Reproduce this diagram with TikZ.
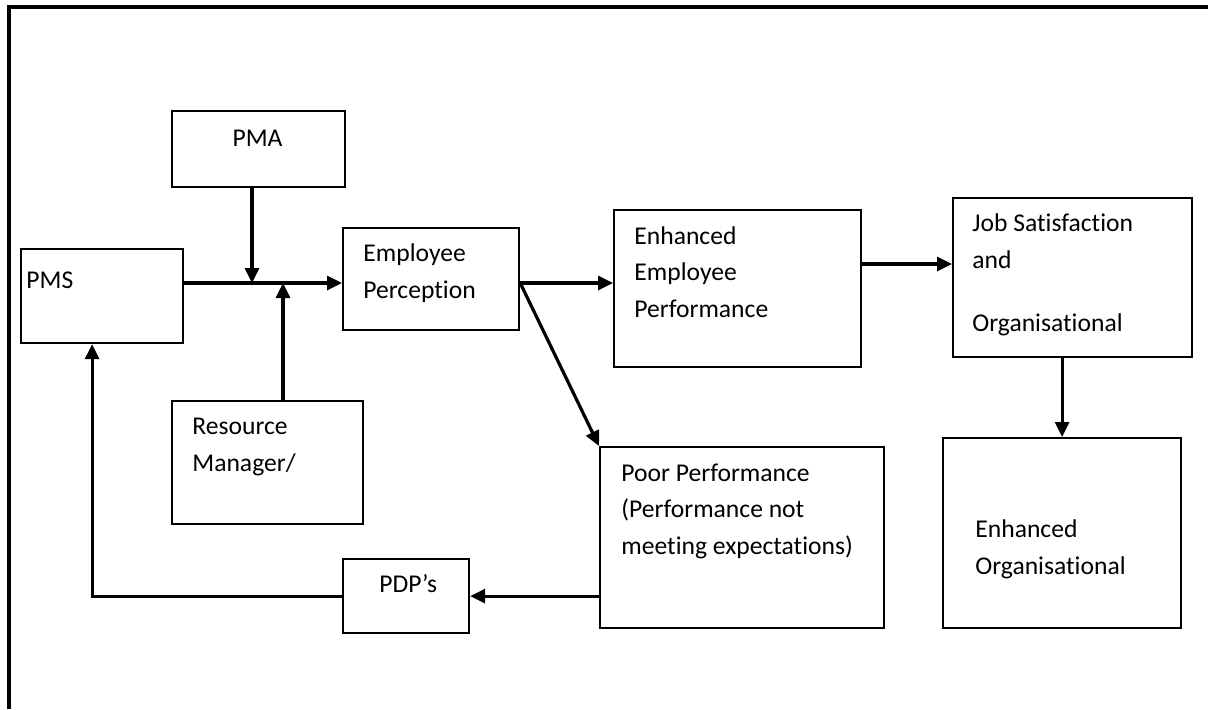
\documentclass[tikz,border=0pt]{standalone}
\usepackage{fontspec}
\setmainfont{Carlito}[Ligatures={NoCommon}]
\usepackage{tikz}
\usetikzlibrary{arrows.meta, positioning}

\begin{document}
\begin{tikzpicture}[
        x=0.5pt, y=-0.5pt,
        box/.style={rectangle, draw=black, line width=1.1pt, inner sep=0pt, anchor=north west},
        txt/.style={inner sep=0pt, anchor=base west, align=left, font=\fontsize{12.8}{18.25}\selectfont},
        arrow/.style={-{Triangle[length=7.5pt,width=7pt]}, line width=1.6pt},
        frame/.style={line width=1.6pt}
    ]
        \useasboundingbox (0,0) rectangle (1208,709);
        \draw[frame] (9,709) -- (9,7) -- (1208,7);

        \node[box, minimum width=86.5pt, minimum height=38pt] (pma) at (171,110) {};
        \node[box, minimum width=81pt, minimum height=47pt] (pms) at (20,248) {};
        \node[box, minimum width=88pt, minimum height=51pt] (ep) at (342,227) {};
        \node[box, minimum width=123.5pt, minimum height=78.5pt] (eep) at (613,209) {};
        \node[box, minimum width=119.5pt, minimum height=79.5pt] (js) at (952,197) {};
        \node[box, minimum width=95.5pt, minimum height=61.5pt] (rm) at (171,400) {};
        \node[box, minimum width=63pt, minimum height=37pt] (pdp) at (342,558) {};
        \node[box, minimum width=142pt, minimum height=90.5pt] (pp) at (599,446) {};
        \node[box, minimum width=119pt, minimum height=95pt] (eo) at (942,437) {};

        % text sits on the baseline of its last line
        \node[txt, anchor=base] (pma-t) at (257.5,146) {PMA};
        \node[txt] (pms-t) at (26,288) {PMS};
        \node[txt] (ep-t) at (363,298) {Employee\\Perception};
        \node[txt] (eep-t) at (634,317) {Enhanced\\Employee\\Performance};
        \node[txt] (js-t) at (972,331) {Job Satisfaction\\and\\[13.25pt]Organisational};
        \node[txt] (rm-t) at (192,471) {Resource\\Manager/};
        \node[txt] (pdp-t) at (379,592) {PDP’s};
        \node[txt] (pp-t) at (621,554) {Poor Performance\\(Performance not\\meeting expectations)};
        \node[txt] (eo-t) at (975,574) {Enhanced\\Organisational};

        \coordinate (ja) at (252,283);
        \coordinate (jb) at (283,283);

        \draw[arrow] (pms.east |- ja) -- (ep.west |- ja);
        \draw[arrow] (pma.south -| ja) -- (ja);
        \draw[arrow] (rm.north -| jb) -- (jb);
        \draw[arrow] (ep.east |- ja) -- (eep.west |- ja);
        \draw[arrow] (ep.east |- ja) -- (pp.north west);
        \draw[arrow] (eep.east |- 0,264) -- (js.west |- 0,264);
        \draw[arrow] (js.south -| eo.north) -- (eo.north);
        \draw[arrow] (pp.west |- pdp.east) -- (pdp.east);
        \draw[arrow] (pdp.west) -| ([xshift=-5pt]pms.south);
    \end{tikzpicture}
\end{document}
